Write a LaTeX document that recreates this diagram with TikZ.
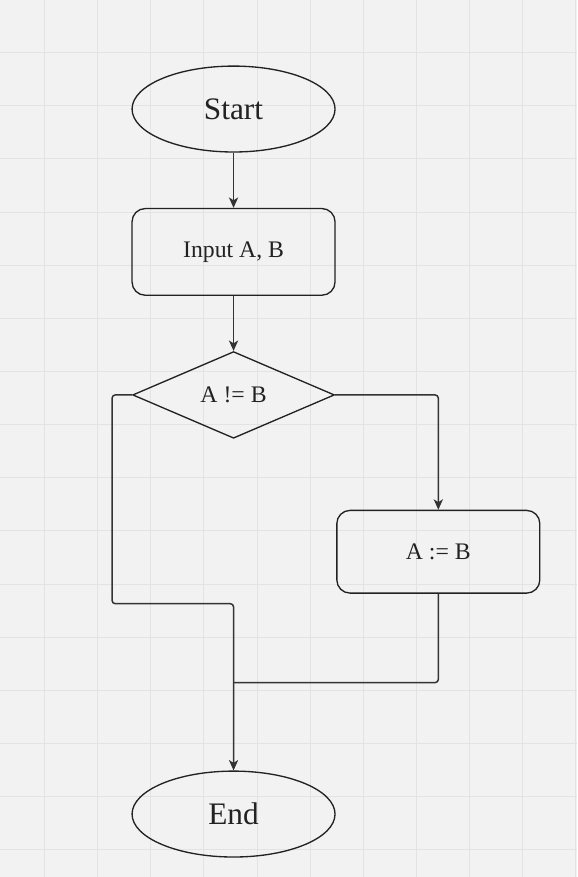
\documentclass[tikz,border=0pt]{standalone}
\usepackage{fontspec}
\setmainfont{Liberation Serif}
\usetikzlibrary{shapes,arrows.meta,positioning}
\definecolor{canvas}{HTML}{F2F2F2}
\definecolor{gridgray}{HTML}{E3E3E3}
\definecolor{stroke}{HTML}{333333}
\definecolor{ink}{HTML}{222222}

\begin{document}
\begin{tikzpicture}

\tikzset{
	term/.style={
		draw=ink,
		ellipse,
		line width=0.95pt,
		minimum width=5.08cm,
		minimum height=2.15cm,
		inner sep=0pt,
		text=ink,
		font=\fontsize{22.3}{26}\selectfont},
	proc/.style={
		draw=ink,
		rectangle,
		rounded corners=0.33cm,
		line width=0.95pt,
		minimum width=5.08cm,
		minimum height=2.17cm,
		inner sep=0pt,
		text=ink,
		font=\fontsize{16.9}{20}\selectfont},
	cond/.style={
		draw=ink,
		diamond,
		line width=0.95pt,
		minimum width=5.05cm,
		minimum height=2.17cm,
		inner sep=0pt,
		text=ink,
		font=\fontsize{16.9}{20}\selectfont},
	arrout/.style={
		-{Stealth[length=2.6mm,width=2.3mm,inset=0.7mm]},
		draw=stroke,
		line width=1.05pt,
		rounded corners=0.08cm},
	arrin/.style={
		{Stealth[length=2.6mm,width=2.3mm,inset=0.7mm]}-,
		draw=stroke,
		line width=1.05pt},
	gridline/.style={
		draw=gridgray,
		line width=0.7pt}
}

% canvas and grid
\fill[canvas] (-5.833,2.717) rectangle (8.592,-19.208);
\foreach \i in {1,...,11}
	\draw[gridline] ({-6.0625+1.33*\i},2.717) -- ++(0,-21.925);
\foreach \j in {1,...,16}
	\draw[gridline] (-5.833,{2.74-1.33*\j}) -- ++(14.425,0);
\useasboundingbox (-5.833,2.717) rectangle (8.592,-19.208);

\node[term] (start) at (0,0) {Start};

\node[proc,below=3.575cm of start.center,anchor=center] (inp) {Input A, B}
	edge[arrin] (start);

\node[cond,below=3.58cm of inp.center,anchor=center] (test) {A != B}
	edge[arrin] (inp);

\node[proc,below=3.925cm of test.center,anchor=center,xshift=5.125cm,minimum height=2.07cm] (asg) {A := B};

\node[term,below=10.49cm of test.center,anchor=center] (end) {End};

\coordinate[left=3.04cm of test.center] (lx);
\coordinate[below=5.225cm of test.center] (ly);
\coordinate[below=7.2cm of test.center] (jn);

\draw[arrout] (test.east) -| (asg.north);
\draw[arrout] (test.west) -- (lx) |- (ly) -- (end.north);
\draw[arrout,-] (asg.south) |- (jn);
\end{tikzpicture}
\end{document}
